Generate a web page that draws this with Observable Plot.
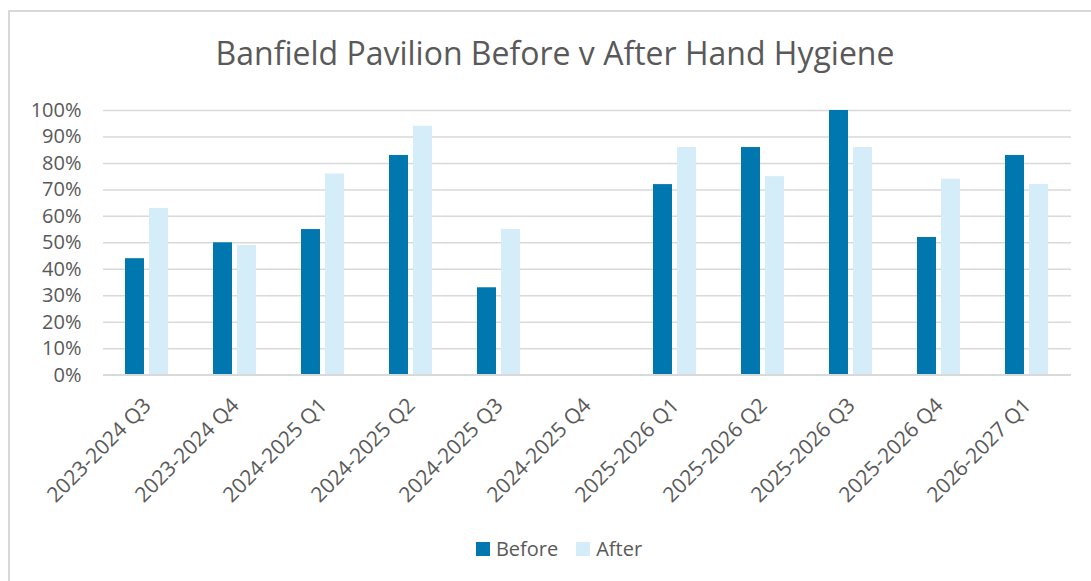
<!DOCTYPE html>
<html>
<head>
<meta charset="utf-8">
<script src="https://cdn.jsdelivr.net/npm/d3@7"></script>
<script src="https://cdn.jsdelivr.net/npm/@observablehq/plot@0.6"></script>
<style>
  html, body { margin: 0; padding: 0; background: #fff; overflow: hidden; }
  body { width: 1091px; height: 581px; position: relative; font-family: "Open Sans", sans-serif; }
  #frame { position: absolute; left: 8px; top: 10px; width: 1200px; height: 700px;
           border-left: 2px solid #d9d9d9; border-top: 2px solid #d9d9d9; }
  #title { position: absolute; left: 8px; width: 1094px; top: 33px; text-align: center;
           font-size: 32px; line-height: 40px; color: #595959; white-space: nowrap; }
  #chart { position: absolute; left: 0; top: 80px; }
  #legend { position: absolute; left: 0; width: 1118px; top: 535px; height: 28px;
            display: flex; justify-content: center; align-items: center;
            font-size: 20px; line-height: 28px; color: #595959; }
  .item { display: flex; align-items: center; margin: 0 9px; }
  .sw { width: 14px; height: 14px; margin-right: 6px; }
</style>
</head>
<body>
<div id="frame"></div>
<div id="title">Banfield Pavilion Before v After Hand Hygiene</div>
<div id="chart"></div>
<div id="legend"></div>
<script>
const categories = ["2023-2024 Q3", "2023-2024 Q4", "2024-2025 Q1", "2024-2025 Q2", "2024-2025 Q3",
  "2024-2025 Q4", "2025-2026 Q1", "2025-2026 Q2", "2025-2026 Q3", "2025-2026 Q4", "2026-2027 Q1"];
const series = ["Before", "After"];
const beforeValues = [0.44, 0.50, 0.55, 0.83, 0.33, null, 0.72, 0.86, 1.00, 0.52, 0.83];
const afterValues  = [0.63, 0.49, 0.76, 0.94, 0.55, null, 0.86, 0.75, 0.86, 0.74, 0.72];
const colors = ["#0077ae", "#d4edf9"];

const table = [];
categories.forEach((c, i) => {
  table.push({category: c, series: "Before", value: beforeValues[i]});
  table.push({category: c, series: "After", value: afterValues[i]});
});

const chart = Plot.plot({
  width: 1091,
  height: 435,
  marginLeft: 100,
  marginRight: 18,
  marginTop: 30,
  marginBottom: 140.4,
  style: { fontFamily: "Open Sans, sans-serif", fontSize: "21px", color: "#595959", background: "transparent" },
  fx: { domain: categories, padding: 0, axis: null },
  x: { domain: series, paddingInner: 0.2, paddingOuter: 0.868, axis: null },
  y: { domain: [0, 1], axis: null },
  color: { domain: series, range: colors },
  marks: [
    Plot.gridY({ ticks: 10, stroke: "#d9d9d9", strokeOpacity: 1, strokeWidth: 1.5 }),
    Plot.barY(table, { fx: "category", x: "series", y: "value", fill: "series" }),
    Plot.ruleY([0], { stroke: "#d9d9d9", strokeWidth: 2 }),
    Plot.axisY({ ticks: 10, tickFormat: d3.format(".0%"), tickSize: 0, tickPadding: 22, label: null, fontSize: 20 }),
    Plot.axisFx({ anchor: "bottom", tickRotate: -45, tickSize: 0, tickPadding: 27, label: null, fontSize: 21 })
  ]
});
document.getElementById("chart").appendChild(chart);

const legend = document.getElementById("legend");
series.forEach((s, i) => {
  const item = document.createElement("div");
  item.className = "item";
  const sw = document.createElement("div");
  sw.className = "sw";
  sw.style.background = colors[i];
  const t = document.createElement("span");
  t.textContent = s;
  item.appendChild(sw);
  item.appendChild(t);
  legend.appendChild(item);
});
</script>
</body>
</html>
